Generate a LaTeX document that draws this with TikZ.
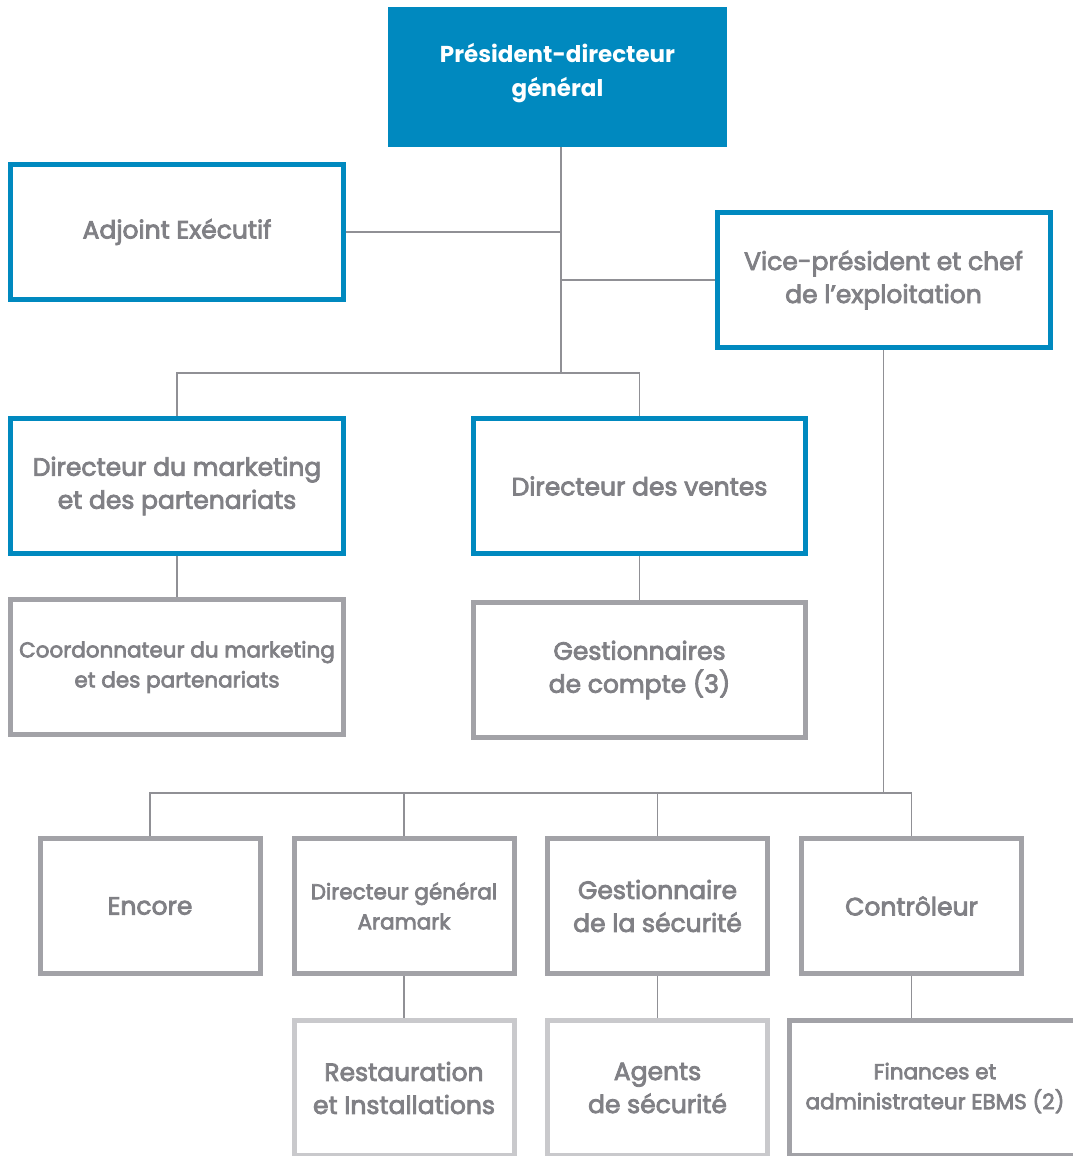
\documentclass[tikz,border=0pt]{standalone}
\usepackage{fontspec}
\setmainfont{Poppins}
\newfontfamily\medfont{Poppins}[FakeBold=3.2]
\definecolor{cblue}{HTML}{0089BF}
\definecolor{cgray}{HTML}{A2A2A7}
\definecolor{clight}{HTML}{C9C9CC}
\definecolor{ctext}{HTML}{808085}
\definecolor{cline}{HTML}{909095}
\tikzset{
  box/.style={draw, line width=5pt, fill=white, align=center, text=ctext, inner sep=0pt},
  bluebox/.style={box, draw=cblue, minimum width=333pt, minimum height=135pt},
  graybox/.style={box, draw=cgray},
  lightbox/.style={box, draw=clight},
  big/.style={font=\medfont\fontsize{25}{33}\selectfont},
  small/.style={font=\medfont\fontsize{21.5}{30}\selectfont},
  conn/.style={draw=cline, line width=1.5pt},
}
\begin{document}
\begin{tikzpicture}[x=1pt,y=-1pt]
\useasboundingbox (0,0) rectangle (1073,1156);
\clip (0,0) rectangle (1073,1156);
\coordinate (j1) at (561,373);
\coordinate (j2) at (883.5,793);
\node[fill=cblue, minimum width=339pt, minimum height=140pt, inner sep=0pt,
  label={[label distance=0pt, yshift=4pt, text=white, align=center, font=\bfseries\fontsize{23}{34}\selectfont]center:{Président-directeur\\général}}] (pdg) at (557.5,77) {};
\node[bluebox, big] (adj) at (177,232) {Adjoint Exécutif};
\node[bluebox, big] (vp) at (883.5,280) {Vice-président et chef\\de l’exploitation};
\node[bluebox, big] (mkt) at (177,486) {Directeur du marketing\\et des partenariats};
\node[bluebox, big, minimum width=332pt] (ven) at (639.5,486) {Directeur des ventes};
\node[graybox, small, minimum width=333pt, minimum height=135pt] (coord) at (177,667) {Coordonnateur du marketing\\et des partenariats};
\node[graybox, big, minimum width=332pt, minimum height=135pt] (gest) at (639.5,670) {Gestionnaires\\de compte (3)};
\node[graybox, big, minimum width=220pt, minimum height=135pt] (enc) at (150,906) {Encore};
\node[graybox, small, minimum width=220pt, minimum height=135pt] (ara) at (404,906) {Directeur général\\Aramark};
\node[graybox, big, minimum width=220pt, minimum height=135pt] (sec) at (657.5,906) {Gestionnaire\\de la sécurité};
\node[graybox, big, minimum width=220pt, minimum height=135pt] (ctl) at (911.5,906) {Contrôleur};
\node[lightbox, big, minimum width=220pt, minimum height=135pt] (rest) at (404,1088) {Restauration\\et Installations};
\node[lightbox, big, minimum width=220pt, minimum height=135pt] (agt) at (657.5,1088) {Agents\\de sécurité};
\node[graybox, small, minimum width=291pt, minimum height=135pt] (fin) at (935,1088) {Finances et\\administrateur EBMS (2)};
\draw[conn] (j1 |- pdg.south) -- (j1);
\draw[conn] (adj.east) -- (adj.east -| j1);
\draw[conn] (vp.west) -- (vp.west -| j1);
\draw[conn] (mkt.north) |- (j1);
\draw[conn] (ven.north) |- (j1);
\draw[conn] (mkt.south) -- (coord.north);
\draw[conn] (ven.south) -- (gest.north);
\draw[conn] (vp.south) -- (j2);
\draw[conn] (enc.north) |- (j2);
\draw[conn] (ara.north) |- (j2);
\draw[conn] (sec.north) |- (j2);
\draw[conn] (ctl.north) |- (j2);
\draw[conn] (ara.south) -- (rest.north);
\draw[conn] (sec.south) -- (agt.north);
\draw[conn] (ctl.south) -- (fin.north -| ctl.south);
\end{tikzpicture}
\end{document}
